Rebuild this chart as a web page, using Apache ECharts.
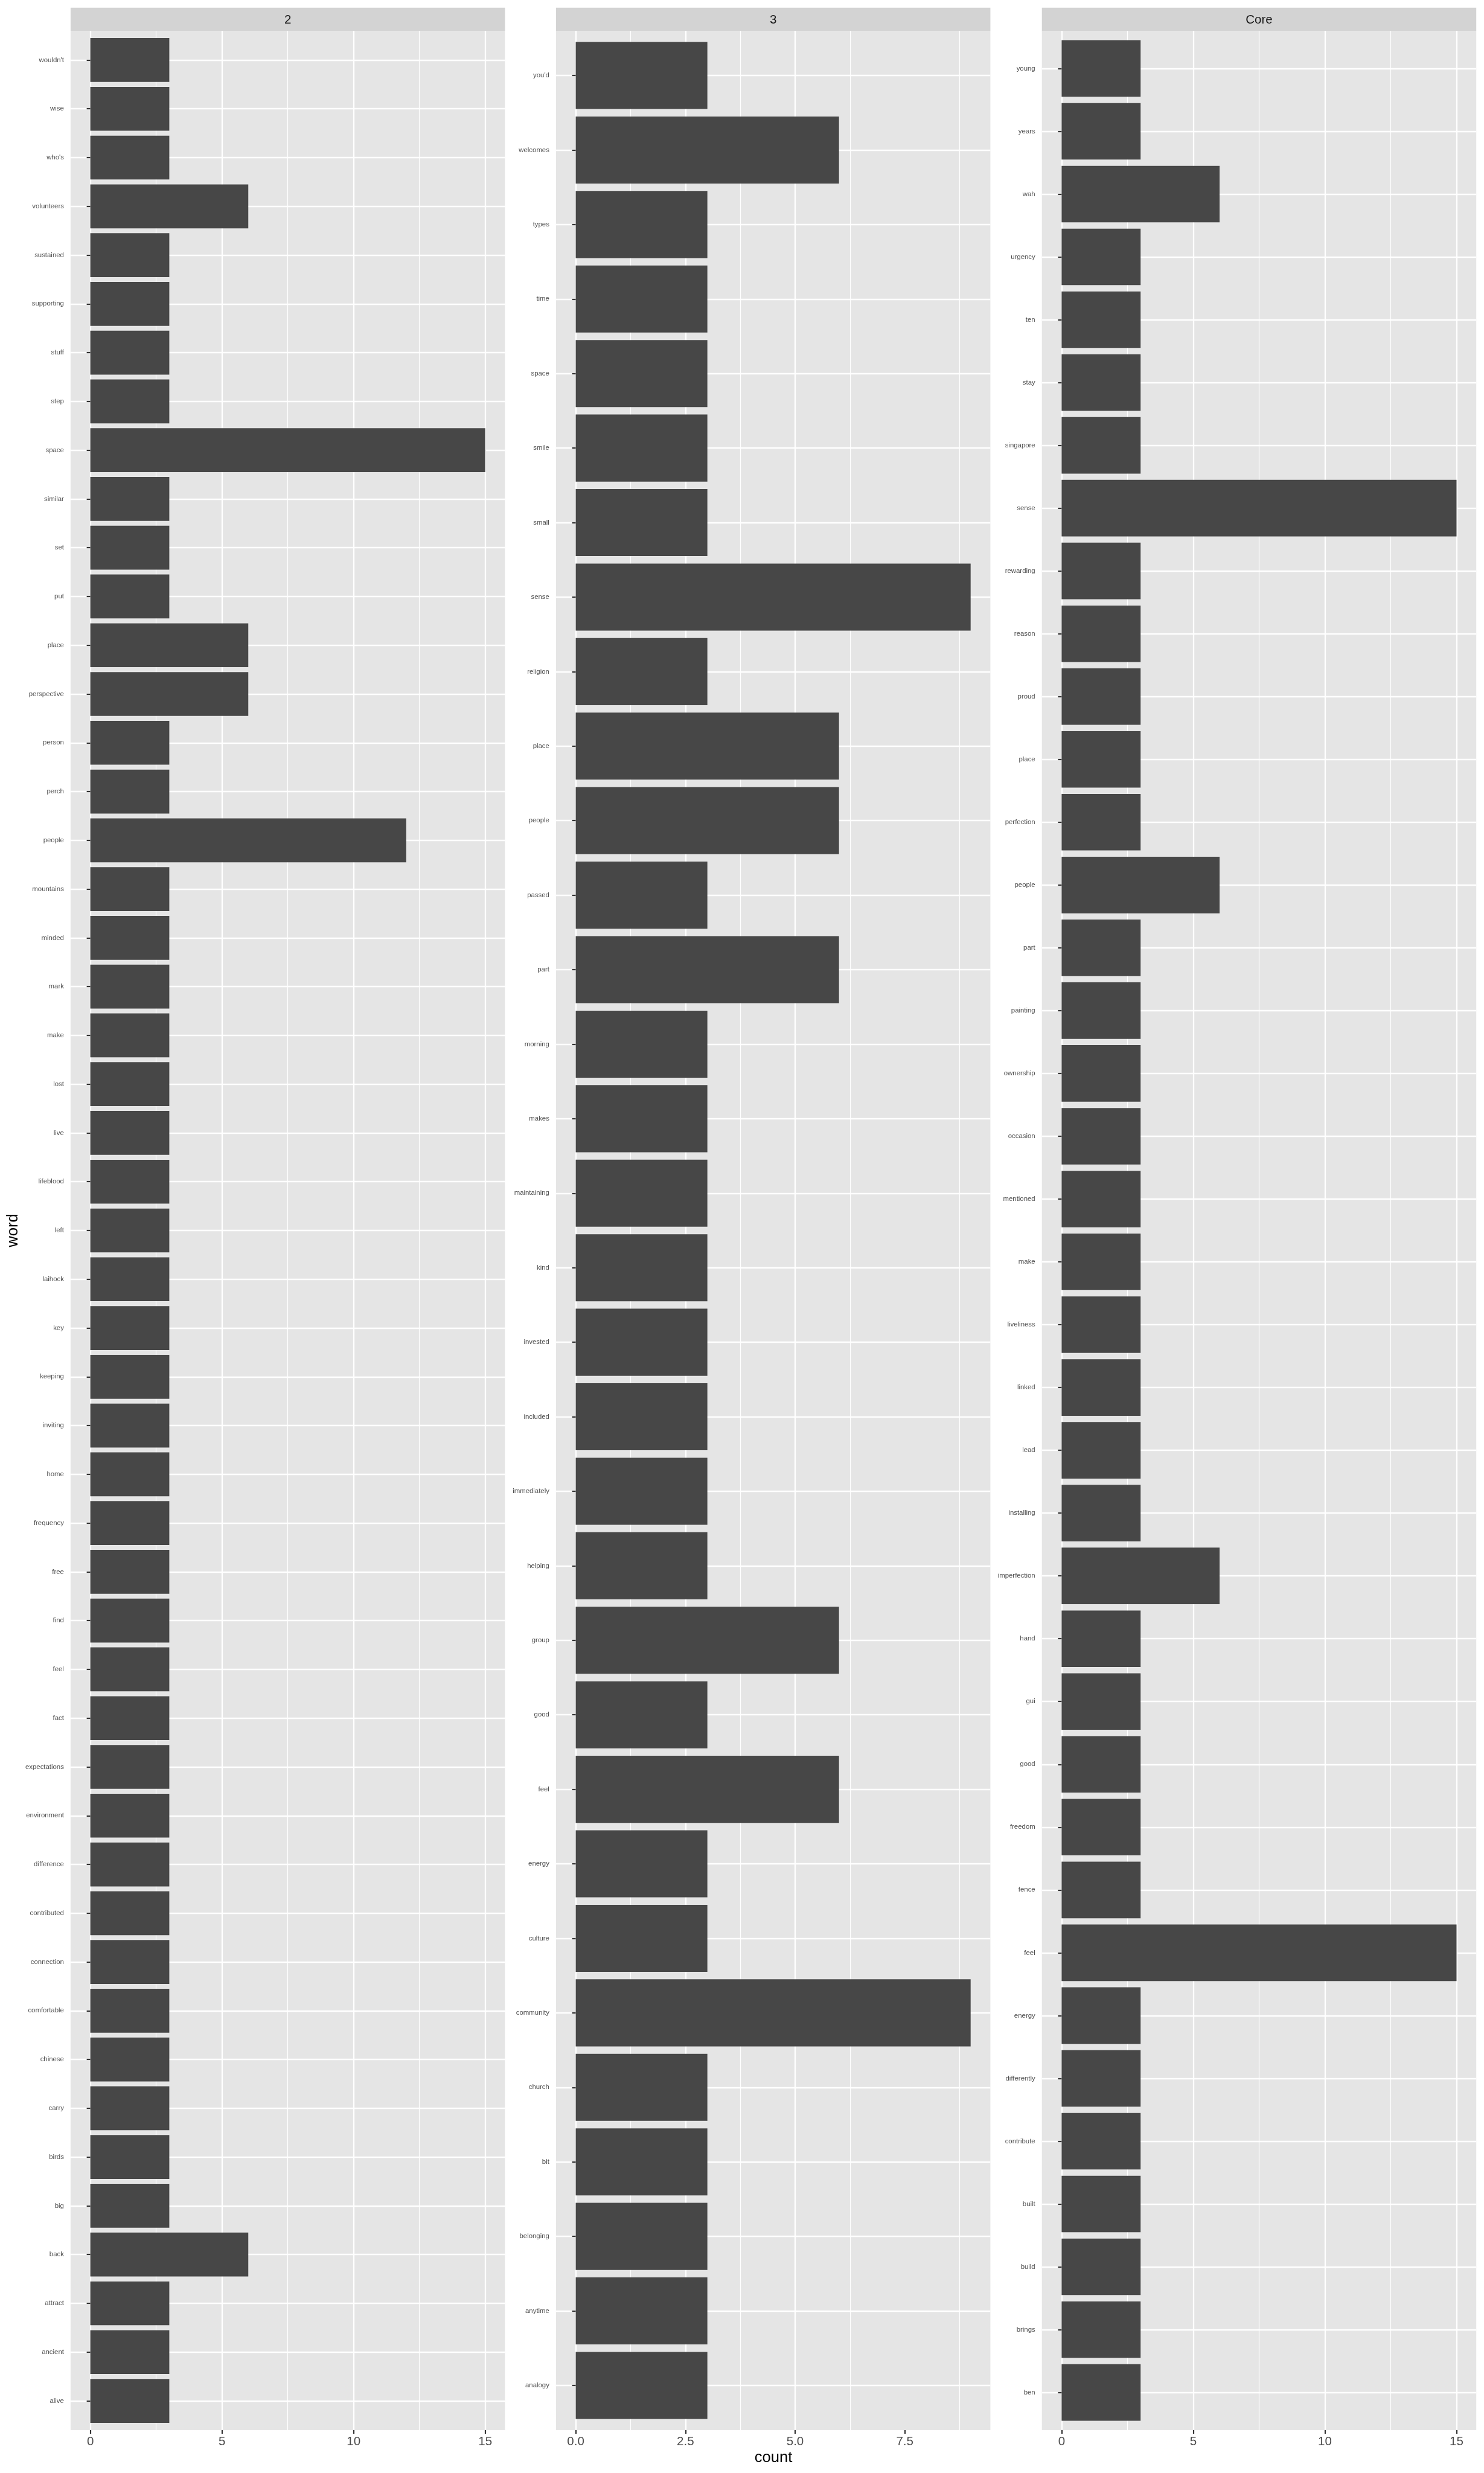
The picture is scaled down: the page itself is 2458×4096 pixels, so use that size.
<!DOCTYPE html>
<html><head><meta charset="utf-8">
<script src="https://cdn.jsdelivr.net/npm/echarts@6/dist/echarts.min.js"></script>
<style>html,body{margin:0;padding:0;background:#fff}#c{width:2458px;height:4096px}</style>
</head><body><div id="c"></div>
<script>
// ---- data ----
const panelTitles = ['2', '3', 'Core'];
const words2 = ["wouldn't","wise","who's","volunteers","sustained","supporting","stuff","step","space","similar","set","put","place","perspective","person","perch","people","mountains","minded","mark","make","lost","live","lifeblood","left","laihock","key","keeping","inviting","home","frequency","free","find","feel","fact","expectations","environment","difference","contributed","connection","comfortable","chinese","carry","birds","big","back","attract","ancient","alive"];
const counts2 = [3,3,3,6,3,3,3,3,15,3,3,3,6,6,3,3,12,3,3,3,3,3,3,3,3,3,3,3,3,3,3,3,3,3,3,3,3,3,3,3,3,3,3,3,3,6,3,3,3];
const words3 = ["you'd","welcomes","types","time","space","smile","small","sense","religion","place","people","passed","part","morning","makes","maintaining","kind","invested","included","immediately","helping","group","good","feel","energy","culture","community","church","bit","belonging","anytime","analogy"];
const counts3 = [3,6,3,3,3,3,3,9,3,6,6,3,6,3,3,3,3,3,3,3,3,6,3,6,3,3,9,3,3,3,3,3];
const wordsCore = ["young","years","wah","urgency","ten","stay","singapore","sense","rewarding","reason","proud","place","perfection","people","part","painting","ownership","occasion","mentioned","make","liveliness","linked","lead","installing","imperfection","hand","gui","good","freedom","fence","feel","energy","differently","contribute","built","build","brings","ben"];
const countsCore = [3,3,6,3,3,3,3,15,3,3,3,3,3,6,3,3,3,3,3,3,3,3,3,3,6,3,3,3,3,3,15,3,3,3,3,3,3,3];
const xTicks2 = [0, 5, 10, 15];
const xTicks3 = [0, 2.5, 5, 7.5];
const xTicksCore = [0, 5, 10, 15];
const xMaxes = [15, 9, 15];
const xIntervals = [5, 2.5, 5];
const xTitle = 'count';
const yTitle = 'word';

// ---- layout ----
const FONT = '"Liberation Sans", Arial, Helvetica, sans-serif';
const panelLefts = [116.9, 920.9, 1725.7];
const PW = 719.5;
const T = 51.0, B = 4025.0, H = B - T;
const stripTop = 12.8;
const panels = [
  {words: words2, counts: counts2, ticks: xTicks2},
  {words: words3, counts: counts3, ticks: xTicks3},
  {words: wordsCore, counts: countsCore, ticks: xTicksCore}
];

const grids = [], xAxes = [], yAxes = [], series = [], graphics = [];
panels.forEach((p, i) => {
  const n = p.words.length;
  const P = H / (n + 0.2);
  const xmax = xMaxes[i];
  const exp = xmax * 0.05;
  const unit = PW / (xmax + 2 * exp);
  const L = panelLefts[i];
  grids.push({left: L, top: T + 0.6 * P, width: PW, height: (n - 1) * P, containLabel: false});
  grids.push({left: L + exp * unit, top: T, width: xmax * unit, height: H, containLabel: false});
  const gA = 2 * i, gB = 2 * i + 1;
  xAxes.push({type: 'value', gridIndex: gA, min: -exp, max: xmax + exp, show: false});
  xAxes.push({
    type: 'value', gridIndex: gB, min: 0, max: xmax, interval: xIntervals[i],
    axisLine: {show: false},
    axisTick: {show: true, length: 6, customValues: p.ticks, lineStyle: {color: '#333333', width: 2.2}},
    axisLabel: {show: true, customValues: p.ticks, fontSize: 20.5, color: '#4D4D4D', margin: 8.5, fontFamily: FONT,
      showMinLabel: true, showMaxLabel: true,
      formatter: v => (i === 1 ? Number(v).toFixed(1) : String(v))},
    splitLine: {show: true, showMaxLine: i !== 1, lineStyle: {color: '#FFFFFF', width: 2.3}},
    minorTick: {show: false, splitNumber: 2},
    minorSplitLine: {show: true, lineStyle: {color: '#FFFFFF', width: 1.2}}
  });
  yAxes.push({
    type: 'category', gridIndex: gA, data: p.words, inverse: true, boundaryGap: false,
    axisLine: {show: false},
    axisTick: {show: true, length: 6, lineStyle: {color: '#333333', width: 2.2}},
    axisLabel: {show: true, interval: 0, fontSize: 11.4, color: '#4D4D4D', margin: 11, fontFamily: FONT},
    splitLine: {show: true, interval: 0, lineStyle: {color: '#FFFFFF', width: 2.3}}
  });
  yAxes.push({type: 'value', gridIndex: gB, min: 0, max: 1, show: false});
  series.push({
    type: 'bar', xAxisIndex: gA, yAxisIndex: gA, data: p.counts, barWidth: '90%', clip: false,
    itemStyle: {color: '#474747'}, silent: true
  });
  graphics.push({type: 'rect', z: -10, silent: true, shape: {x: L, y: T, width: PW, height: H}, style: {fill: '#E5E5E5'}});
  graphics.push({type: 'rect', z: -10, silent: true, shape: {x: L, y: stripTop, width: PW, height: T - stripTop}, style: {fill: '#D3D3D3'}});
  graphics.push({type: 'text', z: 10, silent: true, x: L + PW / 2, y: (stripTop + T) / 2 + 1,
    style: {text: panelTitles[i], fontSize: 20.5, fontFamily: FONT, fill: '#1A1A1A', align: 'center', verticalAlign: 'middle'}});
});
graphics.push({type: 'text', silent: true, x: (panelLefts[0] + panelLefts[2] + PW) / 2, y: 4071,
  style: {text: xTitle, fontSize: 25.6, fontFamily: FONT, fill: '#000000', align: 'center', verticalAlign: 'middle'}});
graphics.push({type: 'text', silent: true, x: 22.2, y: (T + B) / 2, rotation: Math.PI / 2,
  style: {text: yTitle, fontSize: 25.6, fontFamily: FONT, fill: '#000000', align: 'center', verticalAlign: 'middle'}});

const chart = echarts.init(document.getElementById('c'), null, {renderer: 'canvas'});
chart.setOption({
  animation: false,
  backgroundColor: '#FFFFFF',
  grid: grids,
  xAxis: xAxes,
  yAxis: yAxes,
  series: series,
  graphic: {elements: graphics}
});
</script></body></html>
